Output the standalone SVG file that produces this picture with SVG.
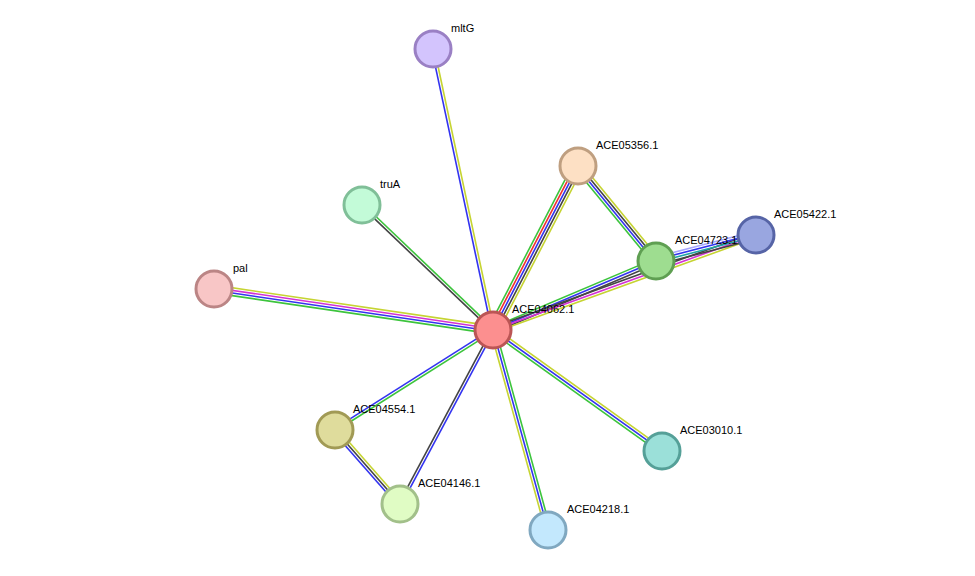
<svg xmlns="http://www.w3.org/2000/svg" width="975" height="576" viewBox="0 0 975 576">
<style>
line{stroke-width:1.6;fill:none}
.g{stroke:#3cc43c}.r{stroke:#f03030}.b{stroke:#3333f0}.k{stroke:#444}.m{stroke:#d430d4}.y{stroke:#c6d432}.l{stroke:#a6a6ff}.t{stroke:#1fa5a5}
circle{stroke-width:3}
text{font-family:"Liberation Sans",Arial,sans-serif;font-size:11px;fill:#000}
</style>
<rect width="975" height="576" fill="#fff"/>
<g id="edges">
<g transform="translate(493,330) rotate(-102.05)"><line x1="0" y1="-1.3" x2="287.3" y2="-1.3" class="b"/><line x1="0" y1="1.3" x2="287.3" y2="1.3" class="y"/></g>
<g transform="translate(493,330) rotate(-136.34)"><line x1="0" y1="-1.3" x2="181.1" y2="-1.3" class="k"/><line x1="0" y1="1.3" x2="181.1" y2="1.3" class="g"/></g>
<g transform="translate(493,330) rotate(-171.64)"><line x1="0" y1="3.9" x2="282" y2="3.9" class="y"/><line x1="0" y1="1.3" x2="282" y2="1.3" class="m"/><line x1="0" y1="-1.3" x2="282" y2="-1.3" class="b"/><line x1="0" y1="-3.9" x2="282" y2="-3.9" class="g"/></g>
<g transform="translate(493,330) rotate(-62.6)"><line x1="0" y1="-5.2" x2="184.7" y2="-5.2" class="g"/><line x1="0" y1="-2.6" x2="184.7" y2="-2.6" class="r"/><line x1="0" y1="0" x2="184.7" y2="0" class="b"/><line x1="0" y1="2.6" x2="184.7" y2="2.6" class="k"/><line x1="0" y1="5.2" x2="184.7" y2="5.2" class="y"/></g>
<g transform="translate(578,166) rotate(50.6)"><line x1="0" y1="3.9" x2="122.9" y2="3.9" class="g"/><line x1="0" y1="1.3" x2="122.9" y2="1.3" class="b"/><line x1="0" y1="-1.3" x2="122.9" y2="-1.3" class="k"/><line x1="0" y1="-3.9" x2="122.9" y2="-3.9" class="y"/></g>
<g transform="translate(493,330) rotate(-22.94)"><line x1="0" y1="-2.6" x2="177" y2="-2.6" class="g"/><line x1="0" y1="0" x2="177" y2="0" class="b"/><line x1="0" y1="2.6" x2="177" y2="2.6" class="k"/></g>
<g transform="translate(493,330) rotate(-19.86)"><line x1="0" y1="-2.6" x2="279.6" y2="-2.6" class="k"/><line x1="0" y1="0" x2="279.6" y2="0" class="m"/><line x1="0" y1="2.6" x2="279.6" y2="2.6" class="y"/></g>
<g transform="translate(656,261) rotate(-14.57)"><line x1="0" y1="-3.9" x2="103.3" y2="-3.9" class="l"/><line x1="0" y1="-1.3" x2="103.3" y2="-1.3" class="b"/><line x1="0" y1="1.3" x2="103.3" y2="1.3" class="t"/><line x1="0" y1="3.9" x2="103.3" y2="3.9" class="k"/></g>
<g transform="translate(493,330) rotate(35.6)"><line x1="0" y1="-2.6" x2="207.8" y2="-2.6" class="y"/><line x1="0" y1="0" x2="207.8" y2="0" class="b"/><line x1="0" y1="2.6" x2="207.8" y2="2.6" class="g"/></g>
<g transform="translate(493,330) rotate(74.6)"><line x1="0" y1="2.6" x2="207.4" y2="2.6" class="y"/><line x1="0" y1="0" x2="207.4" y2="0" class="b"/><line x1="0" y1="-2.6" x2="207.4" y2="-2.6" class="g"/></g>
<g transform="translate(493,330) rotate(118.1)"><line x1="0" y1="1.3" x2="197.3" y2="1.3" class="k"/><line x1="0" y1="-1.3" x2="197.3" y2="-1.3" class="b"/></g>
<g transform="translate(493,330) rotate(147.7)"><line x1="0" y1="1.3" x2="187" y2="1.3" class="b"/><line x1="0" y1="-1.3" x2="187" y2="-1.3" class="g"/></g>
<g transform="translate(335,430) rotate(48.7)"><line x1="0" y1="2.6" x2="98.5" y2="2.6" class="b"/><line x1="0" y1="0" x2="98.5" y2="0" class="k"/><line x1="0" y1="-2.6" x2="98.5" y2="-2.6" class="y"/></g>
</g>
<g id="mltG"><circle cx="433" cy="49" r="18" fill="#d3c4fd" stroke="#9a80c4"/><text x="451" y="32">mltG</text></g>
<g id="truA"><circle cx="362" cy="205" r="18" fill="#c3fbd8" stroke="#80bf98"/><text x="380" y="188">truA</text></g>
<g id="pal"><circle cx="214" cy="289" r="18" fill="#f8c6c6" stroke="#bb8585"/><text x="233" y="272">pal</text></g>
<g id="ACE05356.1"><circle cx="578" cy="166" r="18" fill="#fde0c4" stroke="#bf9f80"/><text x="596" y="149">ACE05356.1</text></g>
<g id="ACE04062.1"><circle cx="493" cy="330" r="18" fill="#fc8f8f" stroke="#bb5555"/><text x="512" y="313">ACE04062.1</text></g>
<g id="ACE04723.1"><circle cx="656" cy="261" r="18" fill="#9edd90" stroke="#5f9f52"/><text x="675" y="244">ACE04723.1</text></g>
<g id="ACE05422.1"><circle cx="756" cy="235" r="18" fill="#99a6e0" stroke="#5664a6"/><text x="774" y="218">ACE05422.1</text></g>
<g id="ACE04554.1"><circle cx="335" cy="430" r="18" fill="#dfdc9c" stroke="#a19a55"/><text x="353" y="413">ACE04554.1</text></g>
<g id="ACE04146.1"><circle cx="400" cy="504" r="18" fill="#e0fcc4" stroke="#a2c08a"/><text x="418" y="487">ACE04146.1</text></g>
<g id="ACE04218.1"><circle cx="548" cy="530" r="18" fill="#c3e8fd" stroke="#80a8c0"/><text x="567" y="513">ACE04218.1</text></g>
<g id="ACE03010.1"><circle cx="662" cy="451" r="18" fill="#9be0d9" stroke="#55a098"/><text x="680" y="434">ACE03010.1</text></g>
</svg>
